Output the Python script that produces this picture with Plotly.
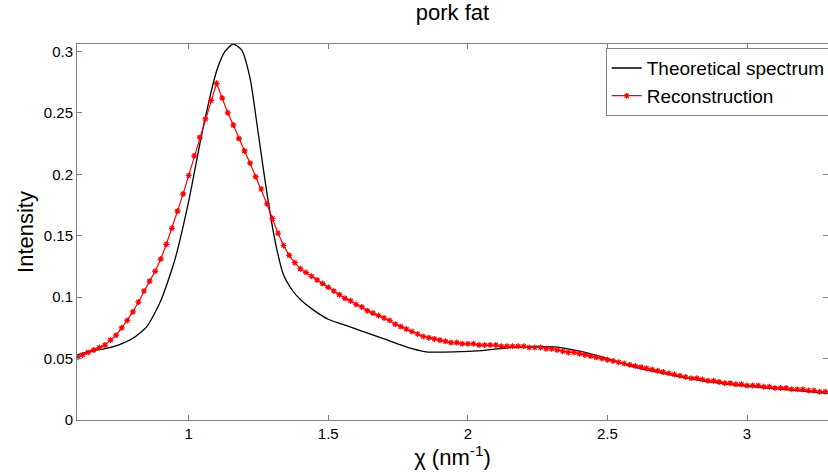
import numpy as np
import plotly.graph_objects as go

# ----------------------------------------------------------------------------------------------------------------------
#  DATA
# ----------------------------------------------------------------------------------------------------------------------
theory_x = [0.60, 0.65, 0.70, 0.75, 0.80, 0.85, 0.90, 0.95, 1.00, 1.05, 1.10, 1.13, 1.16, 1.19, 1.22,
            1.25, 1.28, 1.31, 1.34, 1.37, 1.40, 1.45, 1.50, 1.55, 1.60, 1.70, 1.80, 1.85, 1.95, 2.05,
            2.15, 2.25, 2.31, 2.40, 2.50, 2.60, 2.70, 2.80, 2.90, 3.00, 3.10, 3.20, 3.30]
theory_y = [0.053, 0.0562, 0.058, 0.0612, 0.0665, 0.076, 0.097, 0.130, 0.178, 0.236, 0.284, 0.300, 0.306,
            0.301, 0.278, 0.232, 0.185, 0.145, 0.118, 0.106, 0.098, 0.089, 0.082, 0.078, 0.074, 0.066,
            0.058, 0.0555, 0.0554, 0.0565, 0.059, 0.0595, 0.0595, 0.056, 0.050, 0.0428, 0.038, 0.0335,
            0.030, 0.0275, 0.0255, 0.0235, 0.0215]

recon_x = np.round(np.arange(0.60, 3.3001, 0.02), 2)
recon_y = [0.051, 0.053, 0.055, 0.057, 0.059, 0.061, 0.065, 0.069, 0.075, 0.081,
           0.088, 0.096, 0.105, 0.113, 0.121, 0.131, 0.143, 0.156, 0.170, 0.184,
           0.199, 0.215, 0.230, 0.245, 0.260, 0.274, 0.262, 0.250, 0.240, 0.229,
           0.219, 0.209, 0.198, 0.188, 0.176, 0.164, 0.152, 0.142, 0.134, 0.128,
           0.123, 0.120, 0.117, 0.114, 0.111, 0.108, 0.105, 0.102, 0.099, 0.097,
           0.094, 0.092, 0.089, 0.087, 0.085, 0.083, 0.081, 0.078, 0.076, 0.074,
           0.072, 0.070, 0.068, 0.067, 0.066, 0.065, 0.064, 0.063, 0.063, 0.062,
           0.062, 0.062, 0.061, 0.061, 0.061, 0.061, 0.060, 0.060, 0.060, 0.060,
           0.060, 0.059, 0.059, 0.059, 0.058, 0.058, 0.057, 0.056, 0.055, 0.055,
           0.054, 0.053, 0.052, 0.051, 0.050, 0.049, 0.048, 0.047, 0.046, 0.045,
           0.044, 0.043, 0.042, 0.041, 0.040, 0.039, 0.038, 0.037, 0.036, 0.035,
           0.034, 0.034, 0.033, 0.032, 0.032, 0.031, 0.030, 0.030, 0.029, 0.029,
           0.028, 0.028, 0.028, 0.027, 0.027, 0.026, 0.026, 0.026, 0.025, 0.025,
           0.025, 0.024, 0.024, 0.023, 0.023, 0.023]

x_ticks = [1, 1.5, 2, 2.5, 3]
y_ticks = [0, 0.05, 0.1, 0.15, 0.2, 0.25, 0.3]
y_tick_labels = ['0', '0.05', '0.1', '0.15', '0.2', '0.25', '0.3']

# ----------------------------------------------------------------------------------------------------------------------
#  PLOT
# ----------------------------------------------------------------------------------------------------------------------
font_name  = 'Liberation Sans, Arial, sans-serif'
axis_color = '#808080'

plot_data = []
plot_data.append(go.Scatter(x=theory_x, y=theory_y, name='Theoretical spectrum',
                            mode='lines', line=dict(color='black', width=1.3, shape='spline', smoothing=0.6)))
plot_data.append(go.Scatter(x=recon_x, y=recon_y, name='Reconstruction',
                            mode='lines+markers',
                            line=dict(color='red', width=1.2),
                            marker=dict(symbol='asterisk-open', size=5, color='red',
                                        line=dict(color='rgba(255,0,0,0.8)', width=1.2))))

fig = go.Figure(data=plot_data)

axis_style = dict(showline=True, linecolor=axis_color, linewidth=1, mirror='ticks',
                  ticks='inside', ticklen=5, tickcolor=axis_color, showgrid=False, zeroline=False,
                  tickfont=dict(family=font_name, size=15, color='black'))

fig.update_xaxes(range=[0.6, 3.29], tickvals=x_ticks, ticktext=[str(t) for t in x_ticks],
                 title=dict(text='χ (nm<sup>-1</sup>)', font=dict(family=font_name, size=22, color='black'),
                            standoff=8),
                 **axis_style)
fig.update_yaxes(range=[0, 0.306], tickvals=y_ticks, ticktext=y_tick_labels,
                 title=dict(text='Intensity', font=dict(family=font_name, size=22, color='black'),
                            standoff=4),
                 **axis_style)

fig.update_layout(
    width=828,
    height=475,
    margin=dict(l=77, r=0, t=44, b=55, autoexpand=False),
    paper_bgcolor='white',
    plot_bgcolor='white',
    title=dict(text='pork fat', x=0.5465, xanchor='center', y=0.975, yanchor='middle',
               font=dict(family=font_name, size=22, color='black')),
    showlegend=True,
    legend=dict(x=0.704, y=0.989, xanchor='left', yanchor='top',
                bordercolor=axis_color, borderwidth=1, bgcolor='white',
                font=dict(family=font_name, size=19, color='black'),
                itemwidth=30, tracegroupgap=0),
)

fig.write_html('out.html', config={'displayModeBar': False},
               post_script="document.body.style.margin='0';")
